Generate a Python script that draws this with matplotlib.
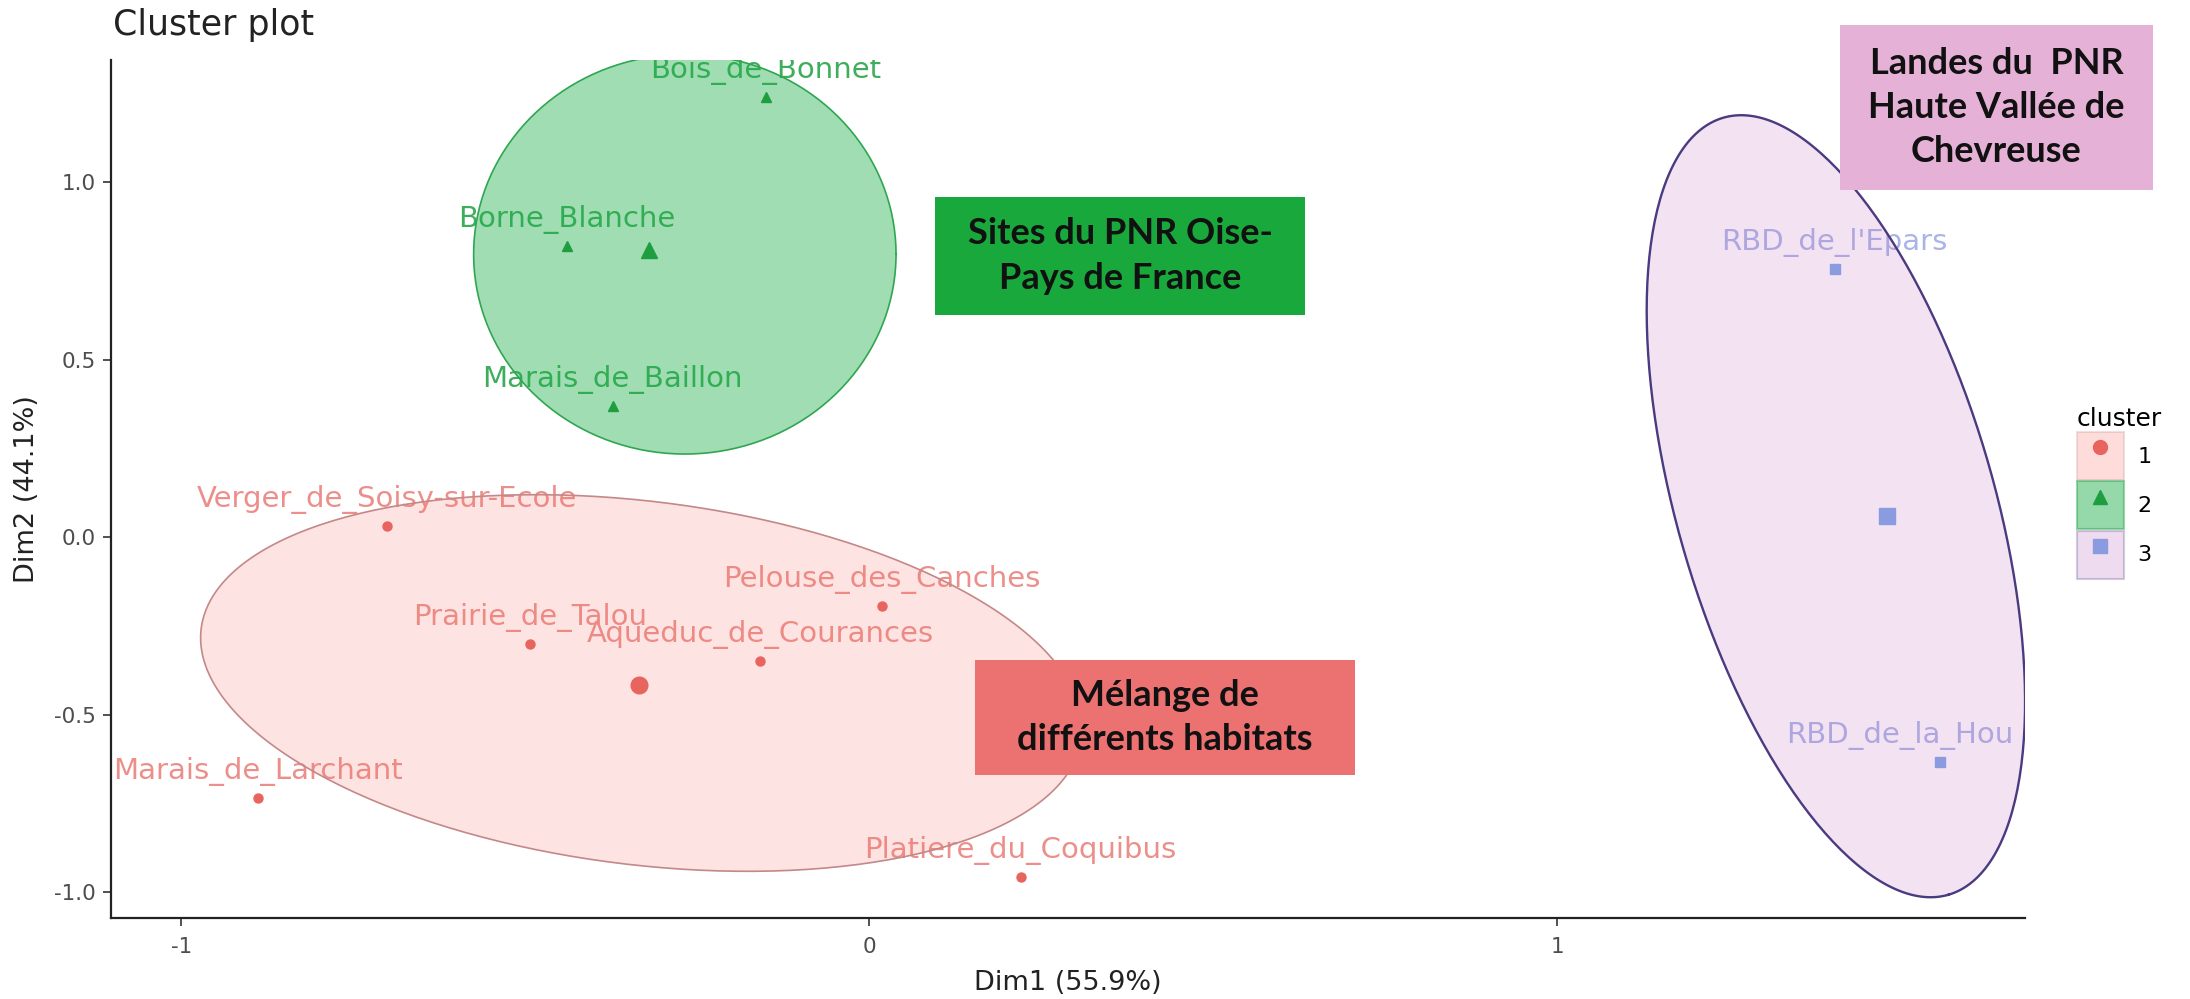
import numpy as np
import pandas as pd
import matplotlib.pyplot as plt
from matplotlib.patches import Rectangle, Polygon, Patch
from matplotlib.lines import Line2D

plt.rcParams["axes.unicode_minus"] = False
plt.rcParams["font.family"] = ["DejaVu Sans"]

# Sites and their coordinates on the first two dimensions
sites = [
    "Verger_de_Soisy-sur-Ecole",
    "Prairie_de_Talou",
    "Aqueduc_de_Courances",
    "Pelouse_des_Canches",
    "Marais_de_Larchant",
    "Platiere_du_Coquibus",
    "Bois_de_Bonnet",
    "Borne_Blanche",
    "Marais_de_Baillon",
    "RBD_de_l'Epars",
    "RBD_de_la_Hou",
]
dim1 = [-0.701, -0.493, -0.159, 0.018, -0.889, 0.220, -0.150, -0.439, -0.373, 1.403, 1.556]
dim2 = [0.031, -0.300, -0.348, -0.195, -0.736, -0.958, 1.239, 0.821, 0.370, 0.755, -0.634]
cluster = [1, 1, 1, 1, 1, 1, 2, 2, 2, 3, 3]

cluster_ids = [1, 2, 3]

# Ellipse estimates (centre and two semi-axis vectors, data units)
ell_cx = [-0.331, -0.268, 1.405]
ell_cy = [-0.411, 0.797, 0.087]
ell_u = [(0.640, -0.153), (0.307, 0.0), (0.1635, -1.0946)]
ell_v = [(-0.032, -0.508), (0.0, 0.563), (-0.2211, -0.1239)]

# Annotation boxes added on top of the plot
box_texts = [
    "Sites du PNR Oise-\nPays de France",
    "Mélange de\ndifférents habitats",
    "Landes du  PNR\nHaute Vallée de\nChevreuse",
]

df = pd.DataFrame({"site": sites, "dim1": dim1, "dim2": dim2, "cluster": cluster})
centres = df.groupby("cluster")[["dim1", "dim2"]].mean()

# Styles
point_colors = {1: "#e8655f", 2: "#1f9e40", 3: "#8a9be0"}
label_colors = {1: "#ec8f8a", 2: "#3fae5c", 3: "#aab4e6"}
fill_colors = {1: "#f8766d", 2: "#1fae4a", 3: "#c070c0"}
fill_alpha = {1: 0.2, 2: 0.42, 3: 0.2}
edge_colors = {1: "#c48888", 2: "#2fa650", 3: "#4a3a80"}
markers = {1: "o", 2: "^", 3: "s"}
label_nudge = {"RBD_de_la_Hou": -29}

fig = plt.figure(figsize=(21.9, 9.99), dpi=100)
ax = fig.add_axes([0.0507, 0.0811, 0.874, 0.8588])

# Labels (drawn below the ellipse fills)
for _, row in df.iterrows():
    ax.annotate(
        row["site"],
        (row["dim1"], row["dim2"]),
        xytext=(label_nudge.get(row["site"], 0), 19),
        textcoords="offset points",
        ha="center",
        va="center",
        fontsize=21,
        color=label_colors[row["cluster"]],
        zorder=2,
        annotation_clip=False,
        clip_on=True,
    )

# Ellipses
t = np.linspace(0, 2 * np.pi, 300)
for i, c in enumerate(cluster_ids):
    ex = ell_cx[i] + ell_u[i][0] * np.cos(t) + ell_v[i][0] * np.sin(t)
    ey = ell_cy[i] + ell_u[i][1] * np.cos(t) + ell_v[i][1] * np.sin(t)
    ax.add_patch(Polygon(np.column_stack([ex, ey]), closed=True,
                         facecolor=fill_colors[c], alpha=fill_alpha[c], edgecolor="none", zorder=3))
    ax.plot(np.append(ex, ex[0]), np.append(ey, ey[0]), color=edge_colors[c],
            lw=1.7 if c == 3 else 1.2, zorder=4)

# Points and cluster centres
for c in cluster_ids:
    sub = df[df["cluster"] == c]
    ms = {1: 6.5, 2: 7, 3: 6.5}[c]
    ax.plot(sub["dim1"], sub["dim2"], linestyle="none", marker=markers[c],
            markersize=ms, color=point_colors[c], zorder=5)
    ax.plot(centres.loc[c, "dim1"], centres.loc[c, "dim2"], linestyle="none",
            marker=markers[c], markersize=12, color=point_colors[c], zorder=5)

ax.set_xlim(-1.102, 1.680)
ax.set_ylim(-1.073, 1.344)
ax.set_xticks([-1, 0, 1])
ax.set_xticklabels(["-1", "0", "1"])
ax.set_yticks([-1.0, -0.5, 0.0, 0.5, 1.0])
ax.set_yticklabels(["-1.0", "-0.5", "0.0", "0.5", "1.0"])
for side in ["top", "right"]:
    ax.spines[side].set_visible(False)
for side in ["left", "bottom"]:
    ax.spines[side].set_color("#222222")
    ax.spines[side].set_linewidth(1.6)
ax.tick_params(length=6, width=1.2, color="#333333", labelsize=15.5,
               labelcolor="#4d4d4d")
ax.tick_params(axis="x", pad=8)
ax.tick_params(axis="y", pad=5)
ax.set_xlabel("Dim1 (55.9%)", fontsize=19.5, color="#222222", labelpad=9)
ax.set_ylabel("Dim2 (44.1%)", fontsize=19.5, color="#222222", labelpad=10)

fig.text(113 / 2190, 1 - 35 / 999, "Cluster plot", fontsize=25,
         color="#222222", va="baseline", ha="left")

# Legend
handles = []
for c in cluster_ids:
    handles.append((
        Patch(facecolor=fill_colors[c], alpha=fill_alpha[c] + 0.05, edgecolor=edge_colors[c], linewidth=1.5),
        Line2D([], [], linestyle="none", marker=markers[c], markersize=10, color=point_colors[c]),
    ))
leg = fig.legend(handles, [str(c) for c in cluster_ids], title="cluster",
                 loc="upper left", bbox_to_anchor=(2066 / 2190, 1 - 396 / 999),
                 frameon=False, fontsize=16, title_fontsize=18,
                 handlelength=2.1, handleheight=2.95, labelspacing=0.05,
                 handletextpad=0.6, borderpad=0, alignment="left")

# Annotation boxes (figure fractions)
box_pos = [
    (935, 197, 370, 118),
    (975, 660, 380, 115),
    (1840, 25, 313, 165),
]
box_colors = ["#19a83c", "#ec7171", "#e6b1d6"]
for (x0, y0, w, h), txt, col in zip(box_pos, box_texts, box_colors):
    fx, fy = x0 / 2190, 1 - (y0 + h) / 999
    fw, fh = w / 2190, h / 999
    fig.add_artist(Rectangle((fx, fy), fw, fh, transform=fig.transFigure,
                             facecolor=col, edgecolor="none", zorder=10))
    fig.text(fx + fw / 2, fy + fh / 2, txt, ha="center", va="center",
             fontsize=26, fontweight="bold", family=["Lato", "DejaVu Sans"],
             color="#111111", linespacing=1.42, zorder=11)

fig.savefig("out.png", dpi=100)
